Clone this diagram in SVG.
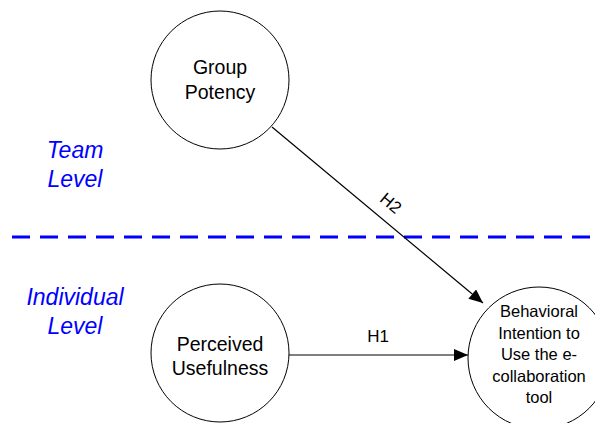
<svg xmlns="http://www.w3.org/2000/svg" width="595" height="423" viewBox="0 0 595 423">
  <style>
    .node { fill: #fff; stroke: #000; stroke-width: 1; }
    .label { font-family: "Liberation Sans", Arial, sans-serif; font-size: 19.5px; fill: #000; text-anchor: middle; }
    .small { font-size: 17px; }
    .inner { font-size: 16.5px; }
    .level { font-family: "Liberation Sans", Arial, sans-serif; font-size: 23px; font-style: italic; fill: #0000ff; text-anchor: middle; }
    .edge { stroke: #000; stroke-width: 1.2; fill: none; }
    .divider { stroke: #0000ff; stroke-width: 3; stroke-dasharray: 18 10; }
  </style>
  <defs>
    <marker id="arrow" viewBox="0 0 14 12" refX="14" refY="6" markerWidth="14" markerHeight="12" markerUnits="userSpaceOnUse" orient="auto">
      <path d="M0,0 L14,6 L0,12 Z" fill="#000"/>
    </marker>
  </defs>
  <rect width="595" height="423" fill="#fff"/>

  <!-- level separator and level labels -->
  <g id="levels">
    <line class="divider" x1="12" y1="237" x2="595" y2="237"/>
    <text class="level" x="75" y="158">Team</text>
    <text class="level" x="75" y="187">Level</text>
    <text class="level" x="75" y="305">Individual</text>
    <text class="level" x="75" y="334">Level</text>
  </g>

  <!-- connectors -->
  <g id="connectors">
    <line class="edge" x1="272" y1="127" x2="483" y2="303" marker-end="url(#arrow)"/>
    <text class="label small" transform="translate(391 203) rotate(40)" x="0" y="6">H2</text>
    <line class="edge" x1="289" y1="355" x2="468" y2="355" marker-end="url(#arrow)"/>
    <text class="label small" x="378" y="342">H1</text>
  </g>

  <g id="group-potency">
    <circle class="node" cx="220" cy="80" r="69"/>
    <text class="label" x="220" y="74">Group</text>
    <text class="label" x="220" y="99">Potency</text>
  </g>

  <g id="perceived-usefulness">
    <circle class="node" cx="220" cy="353" r="69"/>
    <text class="label" x="220" y="351">Perceived</text>
    <text class="label" x="220" y="375">Usefulness</text>
  </g>

  <g id="behavioral-intention">
    <circle class="node" cx="539" cy="358" r="71"/>
    <text class="label inner" x="539" y="317">Behavioral</text>
    <text class="label inner" x="539" y="338.5">Intention to</text>
    <text class="label inner" x="539" y="360">Use the e-</text>
    <text class="label inner" x="539" y="381.5">collaboration</text>
    <text class="label inner" x="539" y="403">tool</text>
  </g>
</svg>
